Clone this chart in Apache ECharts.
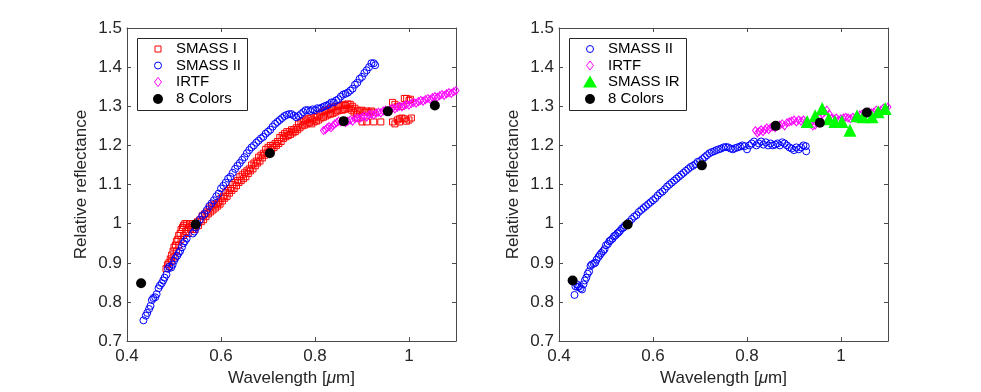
<!DOCTYPE html>
<html>
<head>
<meta charset="utf-8">
<script src="https://cdn.jsdelivr.net/npm/echarts@6/dist/echarts.min.js"></script>
<style>
  html, body { margin: 0; padding: 0; background: #fff; }
  #chart { width: 981px; height: 392px; }
</style>
</head>
<body>
<div id="chart"></div>
<script>
// ---- data: [wavelength (um), relative reflectance] ----

// left panel
const smassI_left = [
  [0.483,0.885],[0.486,0.895],[0.489,0.900],[0.492,0.910],[0.495,0.920],[0.498,0.930],[0.500,0.940],
  [0.503,0.945],[0.505,0.955],[0.508,0.960],[0.510,0.970],[0.513,0.975],[0.515,0.985],[0.518,0.990],
  [0.520,0.995],[0.523,1.000],[0.527,1.000],[0.530,0.990],[0.533,1.000],[0.537,0.995],[0.540,1.000],
  [0.543,0.990],[0.547,0.995],[0.550,1.005],[0.555,1.010],[0.560,1.020],[0.565,1.025],[0.570,1.030],
  [0.575,1.040],[0.580,1.045],[0.585,1.050],[0.590,1.050],[0.595,1.055],[0.600,1.065],[0.605,1.070],
  [0.610,1.080],[0.615,1.085],[0.620,1.090],[0.625,1.100],[0.630,1.105],[0.635,1.110],[0.640,1.120],
  [0.645,1.125],[0.650,1.130],[0.655,1.135],[0.660,1.140],[0.665,1.150],[0.670,1.155],[0.675,1.160],
  [0.680,1.170],[0.685,1.175],[0.690,1.180],[0.695,1.190],[0.700,1.195],[0.705,1.200],[0.710,1.200],
  [0.715,1.205],[0.720,1.210],[0.725,1.220],[0.730,1.225],[0.735,1.230],[0.740,1.235],[0.745,1.235],
  [0.750,1.240],[0.755,1.240],[0.760,1.245],[0.765,1.255],[0.770,1.260],[0.775,1.262],[0.780,1.265],
  [0.785,1.268],[0.790,1.270],[0.795,1.265],[0.800,1.272],[0.805,1.275],[0.810,1.280],[0.815,1.285],
  [0.820,1.288],[0.825,1.290],[0.830,1.292],[0.835,1.295],[0.840,1.298],[0.845,1.300],[0.850,1.300],
  [0.855,1.302],[0.860,1.305],[0.865,1.302],[0.870,1.306],[0.875,1.305],[0.880,1.300],[0.885,1.295],
  [0.890,1.290],[0.895,1.288],[0.900,1.290],[0.905,1.285],[0.910,1.288],[0.915,1.285],[0.920,1.288],
  [0.925,1.285],[0.890,1.270],[0.900,1.260],[0.910,1.260],[0.925,1.260],[0.940,1.260],
  [0.965,1.310],[0.970,1.305],[0.975,1.300],[0.985,1.300],[0.990,1.320],[0.995,1.320],[1.000,1.315],
  [1.003,1.318],[0.965,1.260],[0.970,1.255],[0.975,1.265],[0.980,1.268],[0.985,1.270],[0.990,1.268],
  [0.995,1.262],[1.000,1.265],[1.005,1.270],[0.980,1.260],
  // lower edge of the red band
  [0.490,0.890],[0.495,0.905],[0.500,0.915],[0.505,0.930],[0.510,0.945],[0.515,0.960],[0.520,0.970],
  [0.525,0.980],[0.530,0.975],[0.535,0.985],[0.540,0.985],[0.545,0.985],
  [0.552,0.995],[0.558,1.005],[0.563,1.010],[0.568,1.018],[0.573,1.025],[0.578,1.030],[0.583,1.035],
  [0.588,1.040],[0.593,1.045],[0.598,1.050],[0.603,1.058],[0.608,1.065],[0.613,1.070],[0.618,1.078],
  [0.623,1.085],[0.628,1.090],[0.633,1.097],[0.638,1.105],[0.643,1.110],[0.648,1.115],[0.653,1.120],
  [0.658,1.128],[0.663,1.135],[0.668,1.140],[0.673,1.148],[0.678,1.155],[0.683,1.160],[0.688,1.168],
  [0.693,1.175],[0.698,1.180],[0.703,1.185],[0.708,1.190],[0.713,1.195],[0.718,1.200],[0.723,1.205],
  [0.728,1.210],[0.733,1.218],[0.738,1.222],[0.743,1.225],[0.748,1.228],[0.753,1.232],[0.758,1.235],
  [0.763,1.240],[0.768,1.245],[0.773,1.250],[0.778,1.252],[0.783,1.255],[0.788,1.258],[0.793,1.255],
  [0.798,1.260],[0.803,1.262],[0.808,1.265],[0.813,1.270],[0.818,1.272],[0.823,1.275],[0.828,1.278],
  [0.833,1.280],[0.838,1.282],[0.843,1.285],[0.848,1.288],[0.853,1.290],[0.858,1.290],[0.863,1.292],
  [0.868,1.295],[0.873,1.295],[0.878,1.290],[0.883,1.285],[0.888,1.280]
];
const smassII_left = [
  [0.435,0.753],[0.440,0.765],[0.443,0.772],[0.447,0.782],[0.450,0.790],[0.453,0.805],[0.456,0.810],
  [0.460,0.812],[0.463,0.820],[0.467,0.835],[0.470,0.842],[0.474,0.848],[0.477,0.855],[0.480,0.862],
  [0.484,0.870],[0.487,0.885],[0.490,0.890],[0.494,0.888],[0.497,0.895],[0.500,0.905],[0.503,0.912],
  [0.507,0.918],[0.510,0.925],[0.513,0.930],[0.517,0.940],[0.520,0.950],[0.523,0.955],[0.527,0.962],
  [0.540,0.975],[0.543,0.980],[0.547,0.990],[0.550,1.000],[0.555,1.010],[0.560,1.020],[0.565,1.025],
  [0.570,1.035],[0.575,1.045],[0.580,1.052],[0.585,1.060],[0.590,1.070],[0.595,1.077],[0.600,1.090],
  [0.605,1.097],[0.610,1.105],[0.615,1.115],[0.620,1.120],[0.625,1.130],[0.630,1.140],[0.635,1.148],
  [0.640,1.155],[0.645,1.163],[0.650,1.170],[0.655,1.180],[0.660,1.188],[0.665,1.195],[0.670,1.200],
  [0.675,1.207],[0.680,1.212],[0.685,1.218],[0.690,1.222],[0.695,1.230],[0.700,1.235],[0.705,1.240],
  [0.710,1.248],[0.715,1.255],[0.720,1.260],[0.725,1.265],[0.730,1.270],[0.735,1.275],[0.740,1.278],
  [0.745,1.280],[0.750,1.280],[0.755,1.276],[0.760,1.272],[0.765,1.275],[0.770,1.280],[0.775,1.285],
  [0.780,1.290],[0.785,1.290],[0.790,1.288],[0.795,1.292],[0.800,1.290],[0.805,1.295],[0.810,1.294],
  [0.815,1.297],[0.820,1.300],[0.825,1.302],[0.830,1.305],[0.835,1.310],[0.840,1.310],[0.845,1.315],
  [0.850,1.318],[0.855,1.325],[0.860,1.330],[0.865,1.332],[0.870,1.335],[0.875,1.340],[0.880,1.345],
  [0.885,1.355],[0.890,1.360],[0.895,1.370],[0.900,1.375],[0.905,1.385],[0.910,1.392],[0.915,1.400],
  [0.920,1.410],[0.925,1.410],[0.928,1.405]
];
const irtf_left = [
  [0.818,1.238],[0.822,1.240],[0.826,1.245],[0.830,1.248],[0.834,1.245],[0.838,1.250],[0.842,1.255],
  [0.846,1.258],[0.850,1.262],[0.855,1.260],[0.860,1.262],[0.865,1.258],[0.870,1.262],[0.875,1.265],
  [0.880,1.262],[0.885,1.268],[0.890,1.270],[0.895,1.268],[0.900,1.272],[0.905,1.275],[0.910,1.272],
  [0.915,1.278],[0.920,1.280],[0.925,1.278],[0.930,1.282],[0.935,1.285],[0.940,1.283],[0.945,1.288],
  [0.950,1.290],[0.955,1.288],[0.960,1.292],[0.965,1.295],[0.970,1.293],[0.975,1.297],[0.980,1.300],
  [0.985,1.298],[0.990,1.302],[0.995,1.305],[1.000,1.303],[1.005,1.307],[1.010,1.310],[1.015,1.308],
  [1.020,1.312],[1.025,1.315],[1.030,1.313],[1.035,1.317],[1.040,1.320],[1.045,1.318],[1.050,1.322],
  [1.055,1.325],[1.060,1.323],[1.065,1.327],[1.070,1.330],[1.075,1.328],[1.080,1.332],[1.085,1.335],
  [1.090,1.333],[1.095,1.337],[1.100,1.340]
];
const colors8_left = [[0.430,0.848],[0.546,0.998],[0.704,1.180],[0.861,1.262],[0.955,1.287],[1.055,1.302]];

// right panel
const smassII_right = [
  [0.433,0.818],[0.435,0.840],[0.438,0.845],[0.440,0.838],[0.443,0.840],[0.446,0.835],[0.449,0.832],
  [0.452,0.845],[0.455,0.855],[0.458,0.862],[0.461,0.872],[0.464,0.878],[0.467,0.892],[0.470,0.896],
  [0.474,0.898],[0.477,0.900],[0.480,0.908],[0.484,0.915],[0.487,0.920],[0.490,0.925],[0.494,0.930],
  [0.497,0.935],[0.500,0.945],[0.504,0.948],[0.507,0.955],[0.510,0.958],[0.514,0.962],[0.517,0.968],
  [0.520,0.970],[0.524,0.975],[0.527,0.978],[0.530,0.982],[0.534,0.988],[0.537,0.990],[0.540,0.995],
  [0.544,0.998],[0.547,1.000],[0.550,1.005],[0.555,1.012],[0.560,1.018],[0.565,1.022],[0.570,1.030],
  [0.575,1.035],[0.580,1.040],[0.585,1.045],[0.590,1.050],[0.595,1.055],[0.600,1.060],[0.605,1.065],
  [0.610,1.072],[0.615,1.078],[0.620,1.082],[0.625,1.088],[0.630,1.095],[0.635,1.100],[0.640,1.105],
  [0.645,1.110],[0.650,1.115],[0.655,1.120],[0.660,1.125],[0.665,1.130],[0.670,1.135],[0.675,1.140],
  [0.680,1.145],[0.685,1.148],[0.690,1.152],[0.695,1.158],[0.700,1.160],[0.705,1.165],[0.710,1.170],
  [0.715,1.175],[0.720,1.180],[0.725,1.183],[0.730,1.185],[0.735,1.188],[0.740,1.190],[0.745,1.192],
  [0.750,1.195],[0.755,1.196],[0.760,1.195],[0.765,1.192],[0.770,1.190],[0.775,1.193],[0.780,1.195],
  [0.785,1.197],[0.790,1.200],[0.795,1.198],[0.800,1.190],[0.805,1.200],[0.810,1.205],[0.815,1.210],
  [0.820,1.200],[0.825,1.205],[0.830,1.210],[0.835,1.202],[0.840,1.208],[0.845,1.200],[0.850,1.205],
  [0.855,1.200],[0.860,1.202],[0.865,1.205],[0.870,1.200],[0.875,1.208],[0.880,1.205],[0.885,1.200],
  [0.890,1.195],[0.895,1.192],[0.900,1.188],[0.905,1.195],[0.910,1.190],[0.915,1.195],[0.920,1.200],
  [0.925,1.198],[0.926,1.185]
];
const irtf_right = [
  [0.818,1.238],[0.822,1.232],[0.826,1.236],[0.830,1.240],[0.834,1.235],[0.838,1.240],[0.842,1.245],
  [0.846,1.240],[0.850,1.245],[0.855,1.248],[0.860,1.245],[0.865,1.250],[0.870,1.252],[0.875,1.255],
  [0.880,1.250],[0.885,1.258],[0.890,1.260],[0.895,1.262],[0.900,1.265],[0.905,1.260],[0.910,1.265],
  [0.915,1.262],[0.920,1.265],[0.925,1.260],[0.930,1.258],[0.935,1.255],[0.940,1.250],[0.945,1.252],
  [0.950,1.260],[0.955,1.270],[0.960,1.280],[0.965,1.285],[0.970,1.290],[0.975,1.280],[0.980,1.270],
  [0.985,1.268],[0.990,1.270],[0.995,1.265],[1.000,1.268],[1.005,1.270],[1.010,1.272],[1.015,1.270],
  [1.020,1.268],[1.025,1.272],[1.030,1.270],[1.035,1.275],[1.040,1.278],[1.045,1.280],[1.050,1.280],
  [1.055,1.282],[1.060,1.285],[1.065,1.283],[1.070,1.285],[1.075,1.290],[1.080,1.288],[1.085,1.290],
  [1.090,1.295],[1.095,1.293],[1.100,1.298]
];
const smassIR_right = [
  [0.928,1.261],[0.945,1.276],[0.960,1.294],[0.974,1.268],[0.987,1.261],[1.002,1.261],
  [1.019,1.239],[1.034,1.276],[1.047,1.273],[1.066,1.273],[1.079,1.286],[1.094,1.294]
];
const colors8_right = [[0.429,0.855],[0.546,0.998],[0.704,1.149],[0.861,1.250],[0.955,1.258],[1.055,1.284]];

const xTicks = { min: 0.4, max: 1.1, interval: 0.2 };
const yTicks = { min: 0.7, max: 1.5, interval: 0.1 };

// ---- chart ----
const FONT = '"Liberation Sans", Arial, Helvetica, sans-serif';
const AXIS_COLOR = '#4a4a4a';
const TEXT_COLOR = '#262626';

const grids = [
  { left: 127, top: 28, width: 329, height: 318 },
  { left: 559, top: 28, width: 329, height: 318 }
];

function xAxes(gi) {
  const common = {
    type: 'value', gridIndex: gi, min: xTicks.min, max: xTicks.max, interval: xTicks.interval,
    axisLine: { show: true, onZero: false, lineStyle: { color: AXIS_COLOR, width: 1 } },
    axisTick: { inside: true, length: 4, lineStyle: { color: AXIS_COLOR } },
    splitLine: { show: false }
  };
  return [
    Object.assign({}, common, {
      position: 'bottom',
      axisLabel: { color: TEXT_COLOR, fontSize: 17, fontFamily: FONT, margin: 7, showMaxLabel: false },
      name: 'Wavelength [{i|μ}m]', nameLocation: 'middle', nameGap: 26,
      nameTextStyle: { color: TEXT_COLOR, fontSize: 17, fontFamily: FONT,
        rich: { i: { fontStyle: 'italic', fontSize: 17, fontFamily: FONT, color: TEXT_COLOR } } }
    }),
    Object.assign({}, common, { position: 'top', axisLabel: { show: false } })
  ];
}

function yAxes(gi) {
  const common = {
    type: 'value', gridIndex: gi, min: yTicks.min, max: yTicks.max, interval: yTicks.interval,
    axisLine: { show: true, onZero: false, lineStyle: { color: AXIS_COLOR, width: 1 } },
    axisTick: { inside: true, length: 4, lineStyle: { color: AXIS_COLOR } },
    splitLine: { show: false }
  };
  return [
    Object.assign({}, common, {
      position: 'left',
      axisLabel: { color: TEXT_COLOR, fontSize: 17, fontFamily: FONT, margin: 5 },
      name: 'Relative reflectance', nameLocation: 'middle', nameGap: 37,
      nameTextStyle: { color: TEXT_COLOR, fontSize: 17, fontFamily: FONT }
    }),
    Object.assign({}, common, { position: 'right', axisLabel: { show: false } })
  ];
}

function hollow(name, data, ax, symbol, size, color) {
  return {
    type: 'scatter', name: name, data: data, xAxisIndex: ax, yAxisIndex: ax,
    symbol: symbol, symbolSize: size, silent: true,
    itemStyle: { color: 'rgba(0,0,0,0)', borderColor: color, borderWidth: 1, opacity: 1 }
  };
}
function filled(name, data, ax, symbol, size, color) {
  return {
    type: 'scatter', name: name, data: data, xAxisIndex: ax, yAxisIndex: ax,
    symbol: symbol, symbolSize: size, silent: true,
    itemStyle: { color: color, borderWidth: 0, opacity: 1 }
  };
}

const series = [
  hollow('SMASS I', smassI_left, 0, 'rect', 6, '#ff0000'),
  hollow('SMASS II', smassII_left, 0, 'circle', 7, '#0000ff'),
  hollow('IRTF', irtf_left, 0, 'diamond', [6, 8], '#ff00ff'),
  filled('8 Colors', colors8_left, 0, 'circle', 10, '#000000'),
  hollow('SMASS II', smassII_right, 2, 'circle', 7, '#0000ff'),
  hollow('IRTF', irtf_right, 2, 'diamond', [6, 8], '#ff00ff'),
  filled('SMASS IR', smassIR_right, 2, 'triangle', 13, '#00ff00'),
  filled('8 Colors', colors8_right, 2, 'circle', 10, '#000000')
];

// ---- legend boxes, drawn as graphic elements (key marker + label per row) ----
const ROWS = [49, 65.5, 82, 99];

function keyMarker(kind, cx, cy, color) {
  const stroke = { fill: 'none', stroke: color, lineWidth: 1 };
  switch (kind) {
    case 'square':
      return { type: 'rect', shape: { x: cx - 3, y: cy - 3, width: 6, height: 6 }, style: stroke };
    case 'ring':
      return { type: 'circle', shape: { cx: cx, cy: cy, r: 3.5 }, style: stroke };
    case 'diamond':
      return { type: 'polygon', shape: { points: [[cx, cy - 4.5], [cx + 3.5, cy], [cx, cy + 4.5], [cx - 3.5, cy]] }, style: stroke };
    case 'triangle':
      return { type: 'polygon', shape: { points: [[cx, cy - 6.5], [cx + 7, cy + 5.5], [cx - 7, cy + 5.5]] }, style: { fill: color } };
    default:
      return { type: 'circle', shape: { cx: cx, cy: cy, r: 5 }, style: { fill: color } };
  }
}

function legendBox(x, width, markerX, textX, entries) {
  const children = [{
    type: 'rect', shape: { x: x + 0.5, y: 38.5, width: width, height: 72 },
    style: { fill: '#fff', stroke: '#262626', lineWidth: 1 }
  }];
  entries.forEach((e, i) => {
    children.push(keyMarker(e[1], markerX, ROWS[i], e[2]));
    children.push({
      type: 'text', x: textX, y: ROWS[i],
      style: { text: e[0], fill: '#000', font: '15px ' + FONT, verticalAlign: 'middle', align: 'left' }
    });
  });
  return { type: 'group', z: 10, silent: true, children: children };
}

const chart = echarts.init(document.getElementById('chart'), null, { renderer: 'canvas' });
chart.setOption({
  animation: false,
  backgroundColor: '#ffffff',
  grid: grids,
  xAxis: xAxes(0).concat(xAxes(1)),
  yAxis: yAxes(0).concat(yAxes(1)),
  graphic: [
    legendBox(137, 110, 158, 176, [
      ['SMASS I', 'square', '#ff0000'], ['SMASS II', 'ring', '#0000ff'],
      ['IRTF', 'diamond', '#ff00ff'], ['8 Colors', 'dot', '#000000']
    ]),
    legendBox(569, 117, 590, 608, [
      ['SMASS II', 'ring', '#0000ff'], ['IRTF', 'diamond', '#ff00ff'],
      ['SMASS IR', 'triangle', '#00ff00'], ['8 Colors', 'dot', '#000000']
    ])
  ],
  series: series
});
</script>
</body>
</html>
